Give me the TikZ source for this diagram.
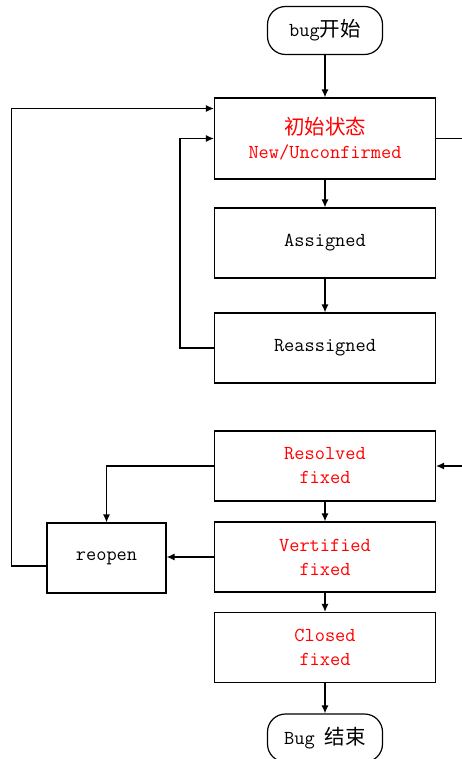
\documentclass[tikz,border=0pt]{standalone}
\usepackage{fontspec}
\newfontfamily\cjk{Noto Sans CJK SC}
\newcommand{\zh}[1]{{\cjk\fontsize{20.5}{24}\selectfont #1}}
\usetikzlibrary{calc,arrows.meta}

\begin{document}
\begin{tikzpicture}[x=1pt,y=-1pt,line width=1.2pt,>={Latex[length=8pt,width=7pt]}]
	\tikzstyle{kuang}=[draw,minimum width=221pt,minimum height=70pt,align=center,font=\ttfamily\fontsize{19.8}{24}\selectfont];
	\tikzstyle{hong}=[kuang,text=red];
	\tikzstyle{duan}=[draw,rounded corners=18pt,minimum width=115pt,minimum height=48pt,font=\ttfamily\fontsize{19.8}{24}\selectfont];
	\tikzstyle{xian}=[->,line width=1.2pt];
	\useasboundingbox (0,0) rectangle (462,759);

	\node[duan] (kaishi)     at (325,30.5)  {bug\zh{开始}};
	\node[hong,minimum height=81pt] (new) at (325,138.5) {\zh{初始状态}\\New/Unconfirmed};
	\node[kuang] (assigned)  at (325,243)   {Assigned};
	\node[kuang] (reassigned) at (325,348)  {Reassigned};
	\node[hong]  (resolved)  at (325,466)   {Resolved\\fixed};
	\node[hong]  (vert)      at (325,557)   {Vertified\\fixed};
	\node[hong]  (closed)    at (325,647.5) {Closed\\fixed};
	\node[duan]  (jieshu)    at (325,738)   {Bug \zh{结束}};
	\node[kuang,minimum width=119pt] (reopen) at (106.5,558) {reopen};

	% main line
	\draw[xian] (kaishi) -- (new);
	\draw[xian] (new) -- (assigned);
	\draw[xian] (assigned) -- (reassigned);
	\draw[xian] (resolved) -- (vert);
	\draw[xian] (vert) -- (closed);
	\draw[xian] (closed) -- (jieshu);

	% back loops
	\draw[xian] (reassigned.west) -- ++(-34,0) |- (new.west);
	\draw[xian] ($(reopen.west)+(0,8)$) -- ++(-35,0) |- ($(new.west)+(0,-30)$);
	\draw[xian] (resolved.west) -| (reopen.north);
	\draw[xian] (vert.west) -- (vert.west -| reopen.east);
	\draw[xian] (new.east) -- ++(40,0) |- (resolved.east);
\end{tikzpicture}
\end{document}
